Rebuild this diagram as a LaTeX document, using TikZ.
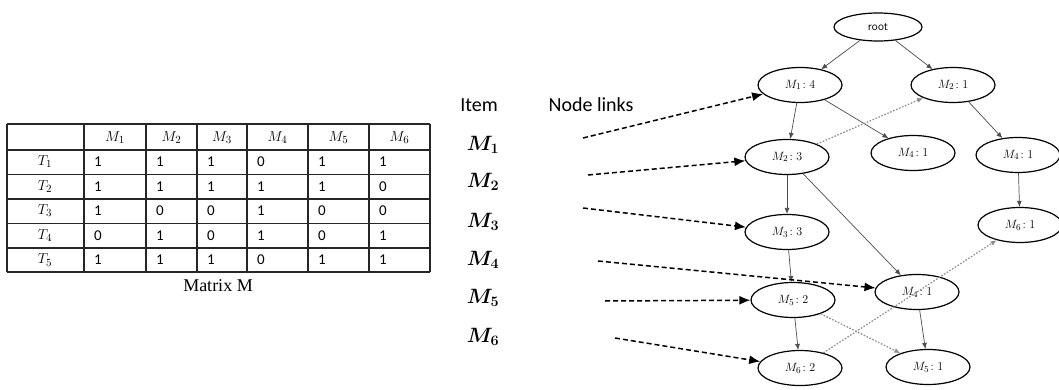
\documentclass[tikz,border=0pt]{standalone}
\usepackage{amsmath}
\usepackage{fontspec}
\setmainfont{Liberation Serif}
\newfontfamily\calibfont{Carlito}
\usetikzlibrary{shapes.geometric,arrows.meta}
\begin{document}
\begin{tikzpicture}[x=1pt,y=-1pt,
  tbl/.style={line width=1.4pt, draw=black!85},
  cell/.style={inner sep=0pt, font=\calibfont\fontsize{15}{17}\selectfont},
  hcell/.style={inner sep=0pt, font=\fontsize{15}{17}\selectfont},
  nd/.style={ellipse, draw, line width=1.2pt, minimum width=84pt, minimum height=35pt, inner sep=0pt, font=\fontsize{13}{15}\selectfont},
  tr/.style={draw=black!70, line width=0.7pt, -{Latex[length=6pt,width=5pt]}},
  lk/.style={draw=black, line width=1.5pt, dash pattern=on 5pt off 3pt, -{Latex[length=11pt,width=9pt]}},
  dl/.style={draw=black!45, line width=1.2pt, dash pattern=on 1.6pt off 1.6pt, -{Latex[length=6pt,width=5pt]}},
  item/.style={inner sep=0pt, font=\fontsize{20}{22}\selectfont},
  head/.style={inner sep=0pt, font=\calibfont\fontsize{20}{22}\selectfont}]
\useasboundingbox (0,0) rectangle (1059,390);
% ---------- table ----------
\foreach \x in {7,84,146,197,247,308,369,430} \draw[tbl] (\x,124) -- (\x,272);
\foreach \y in {124,150,174.5,199,223.5,248,272} \draw[tbl] (7,\y) -- (430,\y);
\foreach \x [count=\i] in {115,171.5,222,277.5,338.5,399.5}
  \node[hcell] (h\i) at (\x,138) {$M_{\i}$};
\foreach \r in {1,...,5}{
  \pgfmathsetmacro{\yc}{137+24.6*\r}
  \node[hcell] (t\r) at (45,\yc) {$T_{\r}$};
}
\foreach \row [count=\r] in {{1,1,1,0,1,1},{1,1,1,1,1,0},{1,0,0,1,0,0},{0,1,0,1,0,1},{1,1,1,0,1,1}}{
  \pgfmathsetmacro{\yc}{137+24.6*\r}
  \foreach \v [count=\c] in \row {
    \pgfmathsetmacro{\xl}{{84,146,197,247,308,369}[\c-1]+10}
    \node[cell, anchor=west] (v\r\c) at (\xl,\yc) {\v};
  }
}
\node[inner sep=0pt, font=\fontsize{18}{20}\selectfont] (cap) at (218,286) {Matrix M};
% ---------- item column ----------
\node[head] (itemh) at (479,105) {Item};
\node[head] (linkh) at (591,105) {Node links};
\foreach \y [count=\i] in {145,182,222,260,298,337}
  \node[item] (m\i) at (483,\y) {$\boldsymbol{M_{\i}}$};
\coordinate (s1) at (583,138);
\coordinate (s2) at (588,175);
\coordinate (s3) at (583,208);
\coordinate (s4) at (598,261);
\coordinate (s5) at (605,301);
\coordinate (s6) at (615,338);
% ---------- tree ----------
\node[nd, minimum width=88pt, minimum height=28pt, font=\sffamily\fontsize{12}{14}\selectfont] (root) at (878,27) {root};
\node[nd] (a14) at (800,85) {$M_1\!:4$};
\node[nd] (a21) at (953,85) {$M_2\!:1$};
\node[nd] (a23) at (787,157) {$M_2\!:3$};
\node[nd] (a41) at (913,153) {$M_4\!:1$};
\node[nd] (b41) at (1018,155) {$M_4\!:1$};
\node[nd] (a33) at (787,232) {$M_3\!:3$};
\node[nd] (a61) at (1020,225) {$M_6\!:1$};
\node[nd] (a52) at (793,300) {$M_5\!:2$};
\node[nd] (c41) at (917,292) {$M_4\!:1$};
\node[nd] (a62) at (800,368) {$M_6\!:2$};
\node[nd] (a51) at (928,367) {$M_5\!:1$};
\draw[tr] (root) -- (a14);
\draw[tr] (root) -- (a21);
\draw[tr] (a14) -- (a23);
\draw[tr] (a14) -- (a41);
\draw[tr] (a21) -- (b41);
\draw[tr] (a23) -- (a33);
\draw[tr] (a23) -- (c41);
\draw[tr] (b41) -- (a61);
\draw[tr] (a33) -- (a52);
\draw[tr] (a52) -- (a62);
\draw[tr] (c41) -- (a51);
\draw[dl] (a23) -- (a21);
\draw[dl] (a52) -- (a51);
\draw[dl] (a62) -- (a61);
\draw[lk] (s1) -- (a14);
\draw[lk] (s2) -- (a23);
\draw[lk] (s3) -- (a33);
\draw[lk] (s4) -- (c41);
\draw[lk] (s5) -- (a52);
\draw[lk] (s6) -- (a62);
\end{tikzpicture}
\end{document}
